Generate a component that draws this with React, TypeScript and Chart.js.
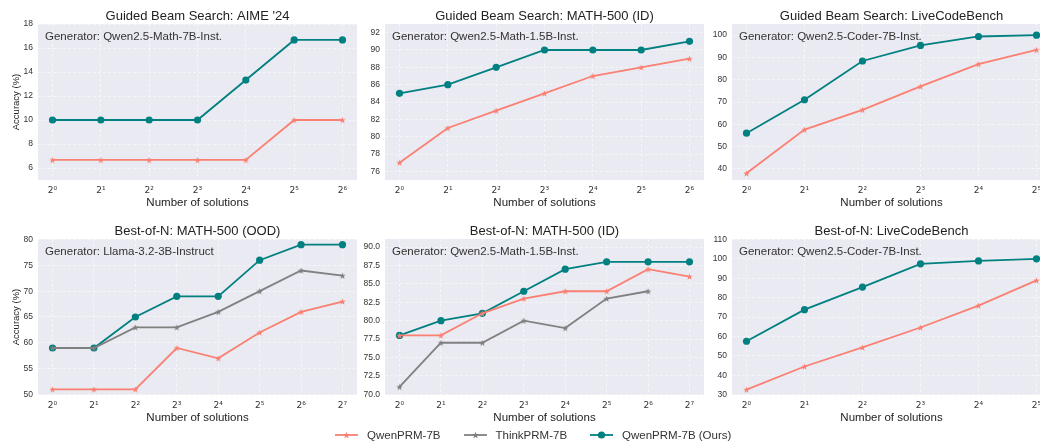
import React, { useEffect, useRef } from "react";
import { Chart, registerables } from "chart.js";

Chart.register(...registerables);

const FONT = '"Liberation Sans", Arial, Helvetica, sans-serif';
const MATH_FONT = '"DejaVu Sans", sans-serif';
const SALMON = "#FA8072";
const GRAY = "#808080";
const TEAL = "#008080";

// Number of sampled solutions (powers of two)
const beamSolutions = [1, 2, 4, 8, 16, 32, 64];
const beamCodeSolutions = [1, 2, 4, 8, 16, 32];
const bonSolutions = [1, 2, 4, 8, 16, 32, 64, 128];
const bonCodeSolutions = [1, 2, 4, 8, 16, 32];

// Guided beam search accuracy (%)
const aimeBeamQwen = [6.67, 6.67, 6.67, 6.67, 6.67, 10.0, 10.0];
const aimeBeamOurs = [10.0, 10.0, 10.0, 10.0, 13.33, 16.67, 16.67];
const mathBeamQwen = [77, 81, 83, 85, 87, 88, 89];
const mathBeamOurs = [85, 86, 88, 90, 90, 90, 91];
const lcbBeamQwen = [38.0, 57.6, 66.5, 77.0, 87.0, 93.4];
const lcbBeamOurs = [56.0, 71.0, 88.4, 95.4, 99.4, 100.0];

// Best-of-N accuracy (%)
const oodBonQwen = [51, 51, 51, 59, 57, 62, 66, 68];
const oodBonThink = [59, 59, 63, 63, 66, 70, 74, 73];
const oodBonOurs = [59, 59, 65, 69, 69, 76, 79, 79];
const idBonQwen = [78, 78, 81, 83, 84, 84, 87, 86];
const idBonThink = [71, 77, 77, 80, 79, 83, 84];
const idBonOurs = [78, 80, 81, 84, 87, 88, 88, 88];
const lcbBonQwen = [32.6, 44.5, 54.3, 64.6, 75.9, 88.9];
const lcbBonOurs = [57.5, 73.8, 85.4, 97.4, 98.9, 100.0];

// Y tick values
const aimeTicks = [6, 8, 10, 12, 14, 16, 18];
const mathBeamTicks = [76, 78, 80, 82, 84, 86, 88, 90, 92];
const lcbBeamTicks = [40, 50, 60, 70, 80, 90, 100];
const oodTicks = [50, 55, 60, 65, 70, 75, 80];
const idBonTicks = [70, 72.5, 75, 77.5, 80, 82.5, 85, 87.5, 90];
const lcbBonTicks = [30, 40, 50, 60, 70, 80, 90, 100, 110];

const legendLabels = ["QwenPRM-7B", "ThinkPRM-7B", "QwenPRM-7B (Ours)"];
const legendColors = [SALMON, GRAY, TEAL];
const legendMarkers: Marker[] = ["star", "star", "circle"];

type Marker = "star" | "circle";
type Series = { label: string; color: string; marker: Marker; data: number[] };
type Panel = {
  title: string;
  generator: string;
  solutions: number[];
  series: Series[];
  yMin: number;
  yMax: number;
  yTicks: number[];
  yDecimals: number;
  col: number;
  row: number;
  yLabel?: string;
};

const panels: Panel[] = [
  {
    title: "Guided Beam Search: AIME '24",
    generator: "Generator: Qwen2.5-Math-7B-Inst.",
    solutions: beamSolutions,
    series: [
      { label: legendLabels[0], color: SALMON, marker: "star", data: aimeBeamQwen },
      { label: legendLabels[2], color: TEAL, marker: "circle", data: aimeBeamOurs },
    ],
    yMin: 5,
    yMax: 18,
    yTicks: aimeTicks,
    yDecimals: 0,
    col: 0,
    row: 0,
    yLabel: "Accuracy (%)",
  },
  {
    title: "Guided Beam Search: MATH-500 (ID)",
    generator: "Generator: Qwen2.5-Math-1.5B-Inst.",
    solutions: beamSolutions,
    series: [
      { label: legendLabels[0], color: SALMON, marker: "star", data: mathBeamQwen },
      { label: legendLabels[2], color: TEAL, marker: "circle", data: mathBeamOurs },
    ],
    yMin: 75,
    yMax: 93,
    yTicks: mathBeamTicks,
    yDecimals: 0,
    col: 1,
    row: 0,
  },
  {
    title: "Guided Beam Search: LiveCodeBench",
    generator: "Generator: Qwen2.5-Coder-7B-Inst.",
    solutions: beamCodeSolutions,
    series: [
      { label: legendLabels[0], color: SALMON, marker: "star", data: lcbBeamQwen },
      { label: legendLabels[2], color: TEAL, marker: "circle", data: lcbBeamOurs },
    ],
    yMin: 35,
    yMax: 105,
    yTicks: lcbBeamTicks,
    yDecimals: 0,
    col: 2,
    row: 0,
  },
  {
    title: "Best-of-N: MATH-500 (OOD)",
    generator: "Generator: Llama-3.2-3B-Instruct",
    solutions: bonSolutions,
    series: [
      { label: legendLabels[0], color: SALMON, marker: "star", data: oodBonQwen },
      { label: legendLabels[1], color: GRAY, marker: "star", data: oodBonThink },
      { label: legendLabels[2], color: TEAL, marker: "circle", data: oodBonOurs },
    ],
    yMin: 49.9,
    yMax: 80.1,
    yTicks: oodTicks,
    yDecimals: 0,
    col: 0,
    row: 1,
    yLabel: "Accuracy (%)",
  },
  {
    title: "Best-of-N: MATH-500 (ID)",
    generator: "Generator: Qwen2.5-Math-1.5B-Inst.",
    solutions: bonSolutions,
    series: [
      { label: legendLabels[0], color: SALMON, marker: "star", data: idBonQwen },
      { label: legendLabels[1], color: GRAY, marker: "star", data: idBonThink },
      { label: legendLabels[2], color: TEAL, marker: "circle", data: idBonOurs },
    ],
    yMin: 69.9,
    yMax: 91.1,
    yTicks: idBonTicks,
    yDecimals: 1,
    col: 1,
    row: 1,
  },
  {
    title: "Best-of-N: LiveCodeBench",
    generator: "Generator: Qwen2.5-Coder-7B-Inst.",
    solutions: bonCodeSolutions,
    series: [
      { label: legendLabels[0], color: SALMON, marker: "star", data: lcbBonQwen },
      { label: legendLabels[2], color: TEAL, marker: "circle", data: lcbBonOurs },
    ],
    yMin: 29.8,
    yMax: 110.2,
    yTicks: lcbBonTicks,
    yDecimals: 0,
    col: 2,
    row: 1,
  },
];

// Plot-area geometry
const COL_LEFT = [38, 385, 732];
const ROW_TOP = [24, 239];
const PLOT_W = 319;
const PLOT_H = 156;
const Y_AXIS_W = 38;
const TOP_PAD = 24;
const X_AXIS_H = 40;
const RIGHT_PAD = 4;
const CANVAS_W = Y_AXIS_W + PLOT_W + RIGHT_PAD;
const CANVAS_H = TOP_PAD + PLOT_H + X_AXIS_H;

const SUP = ["⁰", "¹", "²", "³", "⁴", "⁵", "⁶", "⁷", "⁸", "⁹"];
const powLabel = (e: number) => "2" + String(e).split("").map((d) => SUP[Number(d)]).join("");

function starPath(ctx: CanvasRenderingContext2D, cx: number, cy: number, r: number) {
  const inner = r * 0.42;
  ctx.beginPath();
  for (let i = 0; i < 10; i++) {
    const rad = i % 2 === 0 ? r : inner;
    const a = -Math.PI / 2 + (i * Math.PI) / 5;
    const x = cx + rad * Math.cos(a);
    const y = cy + rad * Math.sin(a);
    if (i === 0) ctx.moveTo(x, y);
    else ctx.lineTo(x, y);
  }
  ctx.closePath();
}

function makeStar(color: string, r: number): HTMLCanvasElement {
  const size = Math.ceil(r * 2 + 2);
  const c = document.createElement("canvas");
  c.width = size;
  c.height = size;
  const ctx = c.getContext("2d")!;
  ctx.fillStyle = color;
  starPath(ctx, size / 2, size / 2 + 0.4, r);
  ctx.fill();
  return c;
}

const panelText = {
  id: "panelText",
  beforeDraw(chart: any) {
    const { ctx, chartArea: a } = chart;
    ctx.save();
    ctx.fillStyle = "#EAEAF2";
    ctx.fillRect(a.left, a.top, a.right - a.left, a.bottom - a.top);
    ctx.restore();
  },
  afterDraw(chart: any, _args: any, opts: any) {
    const { ctx, chartArea: a } = chart;
    const cx = (a.left + a.right) / 2;
    ctx.save();
    ctx.textBaseline = "alphabetic";
    // title
    ctx.fillStyle = "#222";
    ctx.font = `13px ${FONT}`;
    ctx.textAlign = "center";
    ctx.fillText(opts.title, cx, a.top - 4);
    // generator note
    ctx.fillStyle = "#333";
    ctx.font = `11.5px ${FONT}`;
    ctx.textAlign = "left";
    ctx.fillText(opts.generator, a.left + 7, a.top + 16);
    // x axis label
    ctx.fillStyle = "#222";
    ctx.font = `11.5px ${FONT}`;
    ctx.textAlign = "center";
    ctx.fillText("Number of solutions", cx, a.bottom + 26);
    // y axis label
    if (opts.yLabel) {
      ctx.translate(18.5, (a.top + a.bottom) / 2);
      ctx.rotate(-Math.PI / 2);
      ctx.font = `9.5px ${FONT}`;
      ctx.fillStyle = "#222";
      ctx.textAlign = "center";
      ctx.fillText(opts.yLabel, 0, 0);
    }
    ctx.restore();
  },
};

function PanelChart({ panel }: { panel: Panel }) {
  const ref = useRef<HTMLCanvasElement | null>(null);
  useEffect(() => {
    if (!ref.current) return;
    const xs = panel.solutions.map((n) => Math.log2(n));
    const last = xs[xs.length - 1];
    const margin = last * 0.05;
    const datasets = panel.series.map((s) => ({
      label: s.label,
      data: s.data.map((v, i) => ({ x: xs[i], y: v })),
      borderColor: s.color,
      backgroundColor: s.color,
      borderWidth: 1.8,
      tension: 0,
      pointRadius: s.marker === "circle" ? 3.6 : 3.5,
      pointBorderWidth: 0,
      pointStyle: s.marker === "circle" ? "circle" : makeStar(s.color, 3.4),
      pointBackgroundColor: s.color,
    }));
    const gridOpts = { color: "rgba(255,255,255,0.75)", lineWidth: 0.7, drawTicks: false };
    const chart = new Chart(ref.current, {
      type: "line",
      data: { datasets },
      plugins: [panelText],
      options: {
        animation: false,
        responsive: false,
        events: [],
        layout: { padding: { top: TOP_PAD, right: RIGHT_PAD, bottom: 0, left: 0 } },
        plugins: {
          legend: { display: false },
          tooltip: { enabled: false },
          panelText: { title: panel.title, generator: panel.generator, yLabel: panel.yLabel },
        } as any,
        scales: {
          x: {
            type: "linear",
            min: -margin,
            max: last + margin,
            afterFit: (s: any) => {
              s.height = X_AXIS_H;
            },
            afterBuildTicks: (s: any) => {
              s.ticks = xs.map((v) => ({ value: v }));
            },
            ticks: {
              autoSkip: false,
              maxRotation: 0,
              padding: 5,
              color: "#333",
              font: { family: MATH_FONT, size: 9 },
              callback: (v: any) => powLabel(Math.round(Number(v))),
            },
            grid: gridOpts,
            border: { display: false, dash: [3, 2] },
          },
          y: {
            type: "linear",
            min: panel.yMin,
            max: panel.yMax,
            afterFit: (s: any) => {
              s.width = Y_AXIS_W;
            },
            afterBuildTicks: (s: any) => {
              s.ticks = panel.yTicks.map((v) => ({ value: v }));
            },
            ticks: {
              autoSkip: false,
              padding: 5,
              color: "#333",
              font: { family: FONT, size: 8.5 },
              callback: (v: any) => Number(v).toFixed(panel.yDecimals),
            },
            grid: gridOpts,
            border: { display: false, dash: [3, 2] },
          },
        },
      },
    });
    return () => chart.destroy();
  }, [panel]);
  return (
    <canvas
      ref={ref}
      width={CANVAS_W}
      height={CANVAS_H}
      style={{
        position: "absolute",
        left: COL_LEFT[panel.col] - Y_AXIS_W,
        top: ROW_TOP[panel.row] - TOP_PAD,
        width: CANVAS_W,
        height: CANVAS_H,
      }}
    />
  );
}

function LegendHandle({ color, marker }: { color: string; marker: Marker }) {
  const starPts: string[] = [];
  for (let i = 0; i < 10; i++) {
    const rad = i % 2 === 0 ? 3.6 : 1.5;
    const a = -Math.PI / 2 + (i * Math.PI) / 5;
    starPts.push(`${(11.5 + rad * Math.cos(a)).toFixed(2)},${(5.4 + rad * Math.sin(a)).toFixed(2)}`);
  }
  return (
    <svg width={23} height={10} style={{ display: "block" }}>
      <line x1={0} y1={5} x2={23} y2={5} stroke={color} strokeWidth={1.8} />
      {marker === "circle" ? (
        <circle cx={11.5} cy={5} r={3.6} fill={color} />
      ) : (
        <polygon points={starPts.join(" ")} fill={color} />
      )}
    </svg>
  );
}

export default function App() {
  return (
    <div
      style={{
        position: "fixed",
        left: 0,
        top: 0,
        width: 1040,
        height: 442,
        overflow: "hidden",
        background: "#fff",
      }}
    >
      {panels.map((p, i) => (
        <PanelChart key={i} panel={p} />
      ))}
      <div
        style={{
          position: "absolute",
          left: 335,
          top: 427,
          height: 16,
          display: "flex",
          alignItems: "center",
          whiteSpace: "nowrap",
          font: `11.5px ${FONT}`,
          color: "#333",
        }}
      >
        {legendLabels.map((label, i) => (
          <div key={label} style={{ display: "flex", alignItems: "center", marginLeft: i ? 23 : 0 }}>
            <LegendHandle color={legendColors[i]} marker={legendMarkers[i]} />
            <span style={{ marginLeft: 9 }}>{label}</span>
          </div>
        ))}
      </div>
    </div>
  );
}
